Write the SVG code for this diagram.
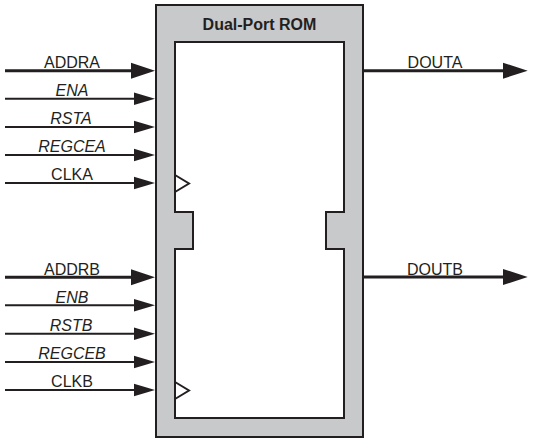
<svg xmlns="http://www.w3.org/2000/svg" width="534" height="444" viewBox="0 0 534 444">
<style>
.lbl{font-family:"Liberation Sans",Arial,sans-serif;font-size:16px;fill:#231f20;text-anchor:middle}
.it{font-style:italic}
.title{font-family:"Liberation Sans",Arial,sans-serif;font-size:16px;font-weight:bold;fill:#231f20;text-anchor:middle}
.thick{stroke:#231f20;stroke-width:3;fill:none}
.thin{stroke:#231f20;stroke-width:2;fill:none}
.ah{fill:#231f20}
</style>
<rect width="534" height="444" fill="#fff"/>
<g id="rom">
<rect x="156" y="5" width="207" height="432" fill="#c8c9cb" stroke="#231f20" stroke-width="2"/>
<path d="M175 42 H344 V212 H326 V249 H344 V418 H175 V249 H193 V212 H175 Z" fill="#fff" stroke="#231f20" stroke-width="2"/>
<polyline points="175,175 189,183.5 175,192" class="thin"/>
<polyline points="175,382 189,390.5 175,399" class="thin"/>
<text class="title" x="259.5" y="29.5">Dual-Port ROM</text>
</g>
<g id="connectors">
<line x1="5" y1="70.7" x2="133" y2="70.7" class="thick"/>
<polygon points="131,62.7 155,70.7 131,78.7" class="ah"/>
<line x1="5" y1="98.7" x2="135" y2="98.7" class="thin"/>
<polygon points="134,92.4 155,98.7 134,105" class="ah"/>
<line x1="5" y1="127" x2="135" y2="127" class="thin"/>
<polygon points="134,120.7 155,127 134,133.3" class="ah"/>
<line x1="5" y1="155" x2="135" y2="155" class="thin"/>
<polygon points="134,148.7 155,155 134,161.3" class="ah"/>
<line x1="5" y1="183" x2="135" y2="183" class="thin"/>
<polygon points="134,176.7 155,183 134,189.3" class="ah"/>
<line x1="5" y1="277.3" x2="133" y2="277.3" class="thick"/>
<polygon points="131,269.3 155,277.3 131,285.3" class="ah"/>
<line x1="5" y1="305.3" x2="135" y2="305.3" class="thin"/>
<polygon points="134,299 155,305.3 134,311.6" class="ah"/>
<line x1="5" y1="333.7" x2="135" y2="333.7" class="thin"/>
<polygon points="134,327.4 155,333.7 134,340" class="ah"/>
<line x1="5" y1="362" x2="135" y2="362" class="thin"/>
<polygon points="134,355.7 155,362 134,368.3" class="ah"/>
<line x1="5" y1="390" x2="135" y2="390" class="thin"/>
<polygon points="134,383.7 155,390 134,396.3" class="ah"/>
<line x1="363" y1="70.7" x2="505" y2="70.7" class="thick"/>
<polygon points="503,62.7 527.7,70.7 503,78.7" class="ah"/>
<line x1="363" y1="277" x2="505" y2="277" class="thick"/>
<polygon points="503,269 527.7,277 503,285" class="ah"/>
</g>
<g id="labels">
<text class="lbl" x="72" y="68">ADDRA</text>
<text class="lbl it" x="72" y="96">ENA</text>
<text class="lbl it" x="71" y="124">RSTA</text>
<text class="lbl it" x="72" y="152.3">REGCEA</text>
<text class="lbl" x="72" y="180">CLKA</text>
<text class="lbl" x="72" y="274.5">ADDRB</text>
<text class="lbl it" x="72" y="302.5">ENB</text>
<text class="lbl it" x="71" y="331">RSTB</text>
<text class="lbl it" x="72" y="359.3">REGCEB</text>
<text class="lbl" x="72" y="387.3">CLKB</text>
<text class="lbl" x="435" y="67.5">DOUTA</text>
<text class="lbl" x="435" y="274.5">DOUTB</text>
</g>
</svg>
